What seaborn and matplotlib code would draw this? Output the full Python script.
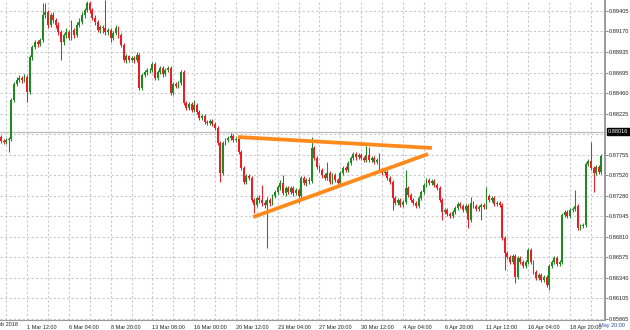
import numpy as np
import pandas as pd
import matplotlib
matplotlib.use("Agg")
import matplotlib.pyplot as plt
import matplotlib.transforms as mtransforms
import seaborn as sns

# ---------------- data (H4 candles) ----------------
opens = [
    0.87956, 0.87910, 0.87899, 0.87922, 0.87933, 0.88382, 0.88566, 0.88612, 0.88635, 0.88612,
    0.88646, 0.88474, 0.88876, 0.88991, 0.89049, 0.89026, 0.89072, 0.89359, 0.89394, 0.89244,
    0.89359, 0.89302, 0.89244, 0.89164, 0.89049, 0.89129, 0.89164, 0.89095, 0.89187, 0.89129,
    0.89244, 0.89279, 0.89359, 0.89417, 0.89497, 0.89417, 0.89325, 0.89279, 0.89187, 0.89221,
    0.89210, 0.89164, 0.89187, 0.89095, 0.89152, 0.89210, 0.89129, 0.89014, 0.88842, 0.88888,
    0.88842, 0.88865, 0.88842, 0.88899, 0.88520, 0.88669, 0.88704, 0.88727, 0.88727, 0.88796,
    0.88635, 0.88704, 0.88750, 0.88681, 0.88727, 0.88750, 0.88462, 0.88566, 0.88543, 0.88577,
    0.88704, 0.88347, 0.88290, 0.88336, 0.88267, 0.88324, 0.88244, 0.88175, 0.88198, 0.88129,
    0.88117, 0.88140, 0.88106, 0.88060, 0.87887, 0.87542, 0.87887, 0.87922, 0.87945, 0.87968,
    0.87922, 0.87933, 0.87784, 0.87600, 0.87439, 0.87508, 0.87485, 0.87232, 0.87174, 0.87255,
    0.87232, 0.87197, 0.87174, 0.87232, 0.87197, 0.87278, 0.87324, 0.87381, 0.87427, 0.87312,
    0.87370, 0.87324, 0.87370, 0.87312, 0.87347, 0.87278, 0.87485, 0.87427, 0.87462, 0.87450,
    0.87830, 0.87715, 0.87611, 0.87577, 0.87519, 0.87485, 0.87542, 0.87439, 0.87519, 0.87462,
    0.87427, 0.87542, 0.87600, 0.87577, 0.87657, 0.87715, 0.87761, 0.87726, 0.87749, 0.87715,
    0.87692, 0.87749, 0.87692, 0.87715, 0.87669, 0.87692, 0.87577, 0.87542, 0.87554, 0.87485,
    0.87439, 0.87255, 0.87197, 0.87232, 0.87174, 0.87209, 0.87370, 0.87289, 0.87232, 0.87197,
    0.87163, 0.87255, 0.87324, 0.87404, 0.87462, 0.87427, 0.87450, 0.87404, 0.87370, 0.87232,
    0.87094, 0.87117, 0.87071, 0.87048, 0.87094, 0.87140, 0.87186, 0.87163, 0.87117, 0.87163,
    0.87002, 0.87197, 0.87163, 0.87128, 0.87151, 0.87174, 0.87151, 0.87278, 0.87232, 0.87255,
    0.87186, 0.87197, 0.87174, 0.86795, 0.86622, 0.86576, 0.86519, 0.86588, 0.86346, 0.86565,
    0.86519, 0.86473, 0.86519, 0.86657, 0.86519, 0.86404, 0.86335, 0.86369, 0.86312, 0.86346,
    0.86254, 0.86473, 0.86519, 0.86565, 0.86496, 0.86519, 0.87059, 0.87094, 0.87048, 0.87117,
    0.87128, 0.87163, 0.86910, 0.86933, 0.86944, 0.87646, 0.87680, 0.87600, 0.87542, 0.87611,
    0.87554,
]
highs = [
    0.87979, 0.87933, 0.87945, 0.87956, 0.88405, 0.88589, 0.88646, 0.88669, 0.88658, 0.88681,
    0.88669, 0.88899, 0.89014, 0.89072, 0.89072, 0.89095, 0.89497, 0.89497, 0.89417, 0.89382,
    0.89394, 0.89325, 0.89279, 0.89187, 0.89152, 0.89210, 0.89187, 0.89302, 0.89210, 0.89279,
    0.89325, 0.89394, 0.89440, 0.89525, 0.89520, 0.89440, 0.89359, 0.89302, 0.89244, 0.89244,
    0.89530, 0.89210, 0.89210, 0.89175, 0.89244, 0.89233, 0.89152, 0.89037, 0.88911, 0.88899,
    0.88888, 0.88888, 0.88934, 0.88922, 0.88692, 0.88727, 0.88750, 0.88750, 0.88819, 0.88819,
    0.88727, 0.88773, 0.88773, 0.88750, 0.88773, 0.88773, 0.88589, 0.88589, 0.88600, 0.88727,
    0.88727, 0.88370, 0.88359, 0.88359, 0.88382, 0.88347, 0.88267, 0.88221, 0.88221, 0.88152,
    0.88163, 0.88163, 0.88129, 0.88083, 0.87910, 0.87910, 0.87945, 0.87968, 0.88002, 0.87991,
    0.87956, 0.87956, 0.87807, 0.87623, 0.87531, 0.87531, 0.87508, 0.87255, 0.87278, 0.87289,
    0.87404, 0.87232, 0.87266, 0.87255, 0.87301, 0.87347, 0.87404, 0.87462, 0.87519, 0.87393,
    0.87393, 0.87393, 0.87393, 0.87370, 0.87370, 0.87508, 0.87508, 0.87485, 0.87496, 0.87956,
    0.87853, 0.87738, 0.87634, 0.87600, 0.87542, 0.87669, 0.87565, 0.87542, 0.87542, 0.87485,
    0.87565, 0.87623, 0.87623, 0.87680, 0.87738, 0.87784, 0.87784, 0.87772, 0.87772, 0.87738,
    0.87853, 0.87841, 0.87738, 0.87738, 0.87715, 0.87772, 0.87600, 0.87577, 0.87577, 0.87508,
    0.87462, 0.87278, 0.87255, 0.87255, 0.87232, 0.87577, 0.87393, 0.87312, 0.87255, 0.87220,
    0.87278, 0.87347, 0.87427, 0.87485, 0.87485, 0.87473, 0.87473, 0.87427, 0.87393, 0.87255,
    0.87140, 0.87140, 0.87094, 0.87117, 0.87163, 0.87209, 0.87209, 0.87186, 0.87186, 0.87186,
    0.87266, 0.87220, 0.87186, 0.87174, 0.87197, 0.87197, 0.87381, 0.87301, 0.87278, 0.87278,
    0.87220, 0.87220, 0.87197, 0.86818, 0.86645, 0.86599, 0.86611, 0.86611, 0.86588, 0.86588,
    0.86542, 0.86542, 0.86680, 0.86680, 0.86542, 0.86427, 0.86392, 0.86392, 0.86369, 0.86369,
    0.86496, 0.86542, 0.86588, 0.86588, 0.86542, 0.87082, 0.87117, 0.87117, 0.87140, 0.87151,
    0.87347, 0.87186, 0.86956, 0.86967, 0.87669, 0.87703, 0.87899, 0.87623, 0.87634, 0.87634,
    0.87761,
]
lows = [
    0.87887, 0.87876, 0.87876, 0.87784, 0.87910, 0.88359, 0.88543, 0.88589, 0.88577, 0.88589,
    0.88359, 0.88451, 0.88842, 0.88968, 0.88991, 0.89003, 0.89049, 0.89325, 0.89210, 0.89221,
    0.89267, 0.89210, 0.89129, 0.88842, 0.89014, 0.89095, 0.89072, 0.89072, 0.89095, 0.89106,
    0.89221, 0.89256, 0.89325, 0.89394, 0.89382, 0.89302, 0.89244, 0.89164, 0.89152, 0.89152,
    0.89129, 0.89129, 0.89049, 0.89072, 0.89129, 0.89095, 0.88991, 0.88819, 0.88807, 0.88819,
    0.88819, 0.88807, 0.88819, 0.88497, 0.88497, 0.88646, 0.88669, 0.88692, 0.88704, 0.88612,
    0.88612, 0.88681, 0.88646, 0.88658, 0.88704, 0.88439, 0.88439, 0.88520, 0.88520, 0.88554,
    0.88324, 0.88267, 0.88267, 0.88244, 0.88244, 0.88221, 0.88152, 0.88152, 0.88106, 0.88094,
    0.88094, 0.88083, 0.88037, 0.87864, 0.87439, 0.87519, 0.87864, 0.87899, 0.87922, 0.87899,
    0.87899, 0.87761, 0.87577, 0.87416, 0.87416, 0.87462, 0.87209, 0.87082, 0.87151, 0.87197,
    0.87163, 0.87140, 0.86680, 0.87163, 0.87174, 0.87255, 0.87301, 0.87347, 0.87289, 0.87278,
    0.87301, 0.87301, 0.87278, 0.87289, 0.87197, 0.87255, 0.87404, 0.87393, 0.87416, 0.87427,
    0.87692, 0.87588, 0.87554, 0.87485, 0.87462, 0.87462, 0.87416, 0.87416, 0.87439, 0.87393,
    0.87404, 0.87519, 0.87554, 0.87554, 0.87634, 0.87692, 0.87692, 0.87703, 0.87692, 0.87669,
    0.87669, 0.87669, 0.87669, 0.87646, 0.87646, 0.87554, 0.87519, 0.87519, 0.87462, 0.87416,
    0.87117, 0.87174, 0.87174, 0.87151, 0.87151, 0.87186, 0.87266, 0.87209, 0.87174, 0.87140,
    0.87140, 0.87232, 0.87301, 0.87381, 0.87404, 0.87404, 0.87381, 0.87347, 0.87209, 0.87002,
    0.87071, 0.87048, 0.87025, 0.87025, 0.87071, 0.87117, 0.87140, 0.87094, 0.87094, 0.86910,
    0.86979, 0.87140, 0.87105, 0.87105, 0.87002, 0.87128, 0.87128, 0.87209, 0.87209, 0.87163,
    0.87163, 0.87151, 0.86772, 0.86427, 0.86553, 0.86496, 0.86496, 0.86277, 0.86323, 0.86496,
    0.86450, 0.86450, 0.86496, 0.86496, 0.86381, 0.86312, 0.86312, 0.86289, 0.86289, 0.86231,
    0.86197, 0.86450, 0.86496, 0.86473, 0.86473, 0.86496, 0.87036, 0.87025, 0.87025, 0.87094,
    0.87105, 0.86887, 0.86887, 0.86910, 0.86921, 0.87623, 0.87577, 0.87324, 0.87519, 0.87531,
    0.87531,
]
closes = [
    0.87910, 0.87899, 0.87922, 0.87933, 0.88382, 0.88566, 0.88612, 0.88635, 0.88612, 0.88646,
    0.88474, 0.88876, 0.88991, 0.89049, 0.89026, 0.89072, 0.89359, 0.89394, 0.89244, 0.89359,
    0.89302, 0.89244, 0.89164, 0.89049, 0.89129, 0.89164, 0.89095, 0.89187, 0.89129, 0.89244,
    0.89279, 0.89359, 0.89417, 0.89497, 0.89417, 0.89325, 0.89279, 0.89187, 0.89221, 0.89210,
    0.89164, 0.89187, 0.89095, 0.89152, 0.89210, 0.89129, 0.89014, 0.88842, 0.88888, 0.88842,
    0.88865, 0.88842, 0.88899, 0.88520, 0.88669, 0.88704, 0.88727, 0.88727, 0.88796, 0.88635,
    0.88704, 0.88750, 0.88681, 0.88727, 0.88750, 0.88462, 0.88566, 0.88543, 0.88577, 0.88704,
    0.88347, 0.88290, 0.88336, 0.88267, 0.88324, 0.88244, 0.88175, 0.88198, 0.88129, 0.88117,
    0.88140, 0.88106, 0.88060, 0.87887, 0.87542, 0.87887, 0.87922, 0.87945, 0.87968, 0.87922,
    0.87933, 0.87784, 0.87600, 0.87439, 0.87508, 0.87485, 0.87232, 0.87174, 0.87255, 0.87232,
    0.87197, 0.87174, 0.87232, 0.87197, 0.87278, 0.87324, 0.87381, 0.87427, 0.87312, 0.87370,
    0.87324, 0.87370, 0.87312, 0.87347, 0.87278, 0.87485, 0.87427, 0.87462, 0.87450, 0.87830,
    0.87715, 0.87611, 0.87577, 0.87519, 0.87485, 0.87542, 0.87439, 0.87519, 0.87462, 0.87427,
    0.87542, 0.87600, 0.87577, 0.87657, 0.87715, 0.87761, 0.87726, 0.87749, 0.87715, 0.87692,
    0.87749, 0.87692, 0.87715, 0.87669, 0.87692, 0.87577, 0.87542, 0.87554, 0.87485, 0.87439,
    0.87255, 0.87197, 0.87232, 0.87174, 0.87209, 0.87370, 0.87289, 0.87232, 0.87197, 0.87163,
    0.87255, 0.87324, 0.87404, 0.87462, 0.87427, 0.87450, 0.87404, 0.87370, 0.87232, 0.87094,
    0.87117, 0.87071, 0.87048, 0.87094, 0.87140, 0.87186, 0.87163, 0.87117, 0.87163, 0.87002,
    0.87197, 0.87163, 0.87128, 0.87151, 0.87174, 0.87151, 0.87278, 0.87232, 0.87255, 0.87186,
    0.87197, 0.87174, 0.86795, 0.86622, 0.86576, 0.86519, 0.86588, 0.86346, 0.86565, 0.86519,
    0.86473, 0.86519, 0.86657, 0.86519, 0.86404, 0.86335, 0.86369, 0.86312, 0.86346, 0.86254,
    0.86473, 0.86519, 0.86565, 0.86496, 0.86519, 0.87059, 0.87094, 0.87048, 0.87117, 0.87128,
    0.87163, 0.86910, 0.86933, 0.86944, 0.87646, 0.87680, 0.87600, 0.87542, 0.87611, 0.87554,
    0.87738,
]

price_ticks = [0.89405, 0.89170, 0.88935, 0.88695, 0.88460, 0.88225, 0.87755, 0.87520,
               0.87280, 0.87045, 0.86810, 0.86575, 0.86340, 0.86105, 0.85865]
grid_prices = price_ticks + [0.87990]
current_price = 0.88016

time_labels = ["1 Mar 12:00", "6 Mar 04:00", "8 Mar 20:00", "13 Mar 08:00", "16 Mar 00:00",
               "20 Mar 12:00", "23 Mar 04:00", "27 Mar 20:00", "30 Mar 12:00", "4 Apr 04:00",
               "6 Apr 20:00", "11 Apr 12:00", "16 Apr 04:00", "18 Apr 20:00"]
time_label_bars = [10 + 16 * k for k in range(len(time_labels))]
first_label = "27 Feb 2018"
last_label = "May 20:00"

# triangle trend lines (bar index, price)
upper_line_bars = [90.8, 165.1]
upper_line_prices = [0.87956, 0.87830]
lower_line_bars = [96.6, 163.6]
lower_line_prices = [0.87036, 0.87761]

# ---------------- drawing ----------------
sns.set_style("white")
plt.rcParams["font.family"] = ["Liberation Sans", "DejaVu Sans"]

GREEN = "#1e8a22"
RED = "#ee1c24"
GRID = "#c9c9c9"
ORANGE = "#ff8a1c"
TXT = "#222222"

o = np.array(opens); h = np.array(highs); l = np.array(lows); c = np.array(closes)
idx = np.arange(len(c))
up = c >= o
cols = np.where(up, GREEN, RED)

fig = plt.figure(figsize=(6.3, 3.3), dpi=100)
ax = fig.add_axes([0, 10 / 330, 605 / 630, 320 / 330])
ax.set_xlim(-0.38, 231.4)
ax.set_ylim(0.85852, 0.89532)

for p in grid_prices:
    ax.axhline(p, color=GRID, lw=0.8, ls=(0, (2, 2)), zorder=0)
for b in range(2, 232, 8):
    ax.axvline(b, color=GRID, lw=0.8, ls=(0, (2, 2)), zorder=0)
ax.axhline(current_price, color="#bdbdbd", lw=0.9, zorder=0.5)

ax.vlines(idx, l, h, colors=cols, linewidth=0.75, zorder=2)
body = np.maximum(np.abs(c - o), 0.00004)
ax.bar(idx, body, bottom=np.minimum(o, c), width=0.72, color=cols, linewidth=0, zorder=3)

df_up = pd.DataFrame({"bar": upper_line_bars, "price": upper_line_prices})
df_lo = pd.DataFrame({"bar": lower_line_bars, "price": lower_line_prices})
sns.lineplot(data=df_up, x="bar", y="price", color=ORANGE, linewidth=2.7, ax=ax, zorder=4,
             solid_capstyle="butt")
sns.lineplot(data=df_lo, x="bar", y="price", color=ORANGE, linewidth=2.7, ax=ax, zorder=4,
             solid_capstyle="butt")
ax.set_xlabel("")
ax.set_ylabel("")

for s in ["top", "left"]:
    ax.spines[s].set_visible(False)
ax.spines["right"].set_color("#9a9a9a")
ax.spines["right"].set_linewidth(1.4)
ax.spines["bottom"].set_color("#9a9a9a")
ax.spines["bottom"].set_linewidth(0.8)

ax.yaxis.tick_right()
ax.set_yticks(price_ticks)
ax.set_yticklabels([f"{p:.5f}" for p in price_ticks], fontsize=4.1, color=TXT)
ax.tick_params(axis="y", length=2.2, width=0.6, color="#777777", pad=0.6)

ax.set_xticks(time_label_bars)
ax.set_xticklabels(time_labels, fontsize=4.0, color=TXT)
for t in ax.get_xticklabels():
    t.set_horizontalalignment("left")
ax.tick_params(axis="x", length=2.5, width=0.6, color="#777777", pad=1.2)

fig.text(18 / 630, 1 - 325 / 330, first_label, fontsize=4.0, color=TXT, ha="right", va="center")
fig.text(599 / 630, 1 - 325 / 330, last_label, fontsize=4.0, color="#2a4a9a", ha="left", va="center")

trans = mtransforms.blended_transform_factory(ax.transAxes, ax.transData)
ax.text(1.005, current_price, "0.88016", transform=trans, fontsize=4.1, color="white",
        ha="left", va="center", clip_on=False,
        bbox=dict(boxstyle="square,pad=0.2", fc="black", ec="black"))

fig.savefig("out.png", dpi=100)
